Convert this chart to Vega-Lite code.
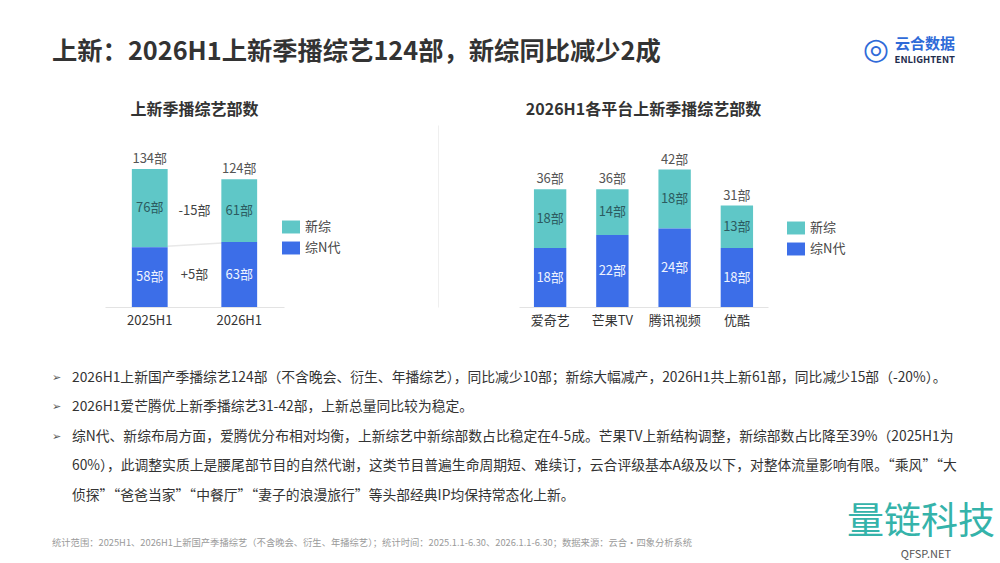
{
  "$schema": "https://vega.github.io/schema/vega-lite/v6.json",
  "background": "white",
  "padding": {"left": 52, "top": 0, "right": 0, "bottom": 0},
  "autosize": {"type": "pad"},
  "bounds": "full",
  "spacing": 0,
  "config": {
    "font": "Noto Sans CJK SC",
    "view": {"stroke": null, "fill": "white"},
    "axis": {"grid": false, "ticks": false, "title": null}
  },
  "datasets": {
    "header": [{"title": "上新：2026H1上新季播综艺124部，新综同比减少2成", "brand": "云合数据", "brandEn": "ENLIGHTENT", "icon": "◎"}],
    "trend": [
      {"period": "2025H1", "type": "新综", "value": 76, "change": ""},
      {"period": "2025H1", "type": "综N代", "value": 58, "change": ""},
      {"period": "2026H1", "type": "新综", "value": 61, "change": "-15部"},
      {"period": "2026H1", "type": "综N代", "value": 63, "change": "+5部"}
    ],
    "platform": [
      {"platform": "爱奇艺", "type": "新综", "value": 18},
      {"platform": "爱奇艺", "type": "综N代", "value": 18},
      {"platform": "芒果TV", "type": "新综", "value": 14},
      {"platform": "芒果TV", "type": "综N代", "value": 22},
      {"platform": "腾讯视频", "type": "新综", "value": 18},
      {"platform": "腾讯视频", "type": "综N代", "value": 24},
      {"platform": "优酷", "type": "新综", "value": 13},
      {"platform": "优酷", "type": "综N代", "value": 18}
    ],
    "notes": [
      {"line": 1, "bullet": "➢", "text": "2026H1上新国产季播综艺124部（不含晚会、衍生、年播综艺），同比减少10部；新综大幅减产，2026H1共上新61部，同比减少15部（-20%）。"},
      {"line": 2, "bullet": "➢", "text": "2026H1爱芒腾优上新季播综艺31-42部，上新总量同比较为稳定。"},
      {"line": 3, "bullet": "➢", "text": "综N代、新综布局方面，爱腾优分布相对均衡，上新综艺中新综部数占比稳定在4-5成。芒果TV上新结构调整，新综部数占比降至39%（2025H1为"},
      {"line": 4, "bullet": "", "text": "60%），此调整实质上是腰尾部节目的自然代谢，这类节目普遍生命周期短、难续订，云合评级基本A级及以下，对整体流量影响有限。“乘风”“大"},
      {"line": 5, "bullet": "", "text": "侦探”“爸爸当家”“中餐厅”“妻子的浪漫旅行”等头部经典IP均保持常态化上新。"}
    ],
    "footer": [{"note": "统计范围：2025H1、2026H1上新国产季播综艺（不含晚会、衍生、年播综艺）；统计时间：2025.1.1-6.30、2026.1.1-6.30；数据来源：云合·四象分析系统", "mark": "量链科技", "site": "QFSP.NET"}]
  },
  "vconcat": [
    {
      "width": 903,
      "height": 102,
      "data": {"name": "header"},
      "layer": [
        {
          "mark": {"type": "text", "align": "left", "baseline": "middle", "fontSize": 25.3, "fontWeight": "bold", "color": "#333333", "dy": 1},
          "encoding": {
            "x": {"datum": 0, "type": "quantitative", "scale": {"domain": [0, 1], "nice": false}, "axis": null},
            "text": {"field": "title"}
          }
        },
        {
          "mark": {"type": "text", "align": "right", "baseline": "middle", "fontSize": 15, "fontWeight": "bold", "color": "#2F6BD8", "dy": -7.5},
          "encoding": {
            "x": {"datum": 1, "type": "quantitative", "scale": {"domain": [0, 1], "nice": false}, "axis": null},
            "text": {"field": "brand"}
          }
        },
        {
          "mark": {"type": "text", "align": "right", "baseline": "middle", "fontSize": 9.5, "fontWeight": "bold", "color": "#1F2D4D", "dy": 9},
          "encoding": {
            "x": {"datum": 1, "type": "quantitative", "scale": {"domain": [0, 1], "nice": false}, "axis": null},
            "text": {"field": "brandEn"}
          }
        },
        {
          "mark": {"type": "text", "align": "right", "baseline": "middle", "font": "DejaVu Sans", "fontSize": 30, "color": "#2F6BD8", "dy": -1, "dx": -66},
          "encoding": {
            "x": {"datum": 1, "type": "quantitative", "scale": {"domain": [0, 1], "nice": false}, "axis": null},
            "text": {"field": "icon"}
          }
        }
      ]
    },
    {
      "bounds": "flush",
      "spacing": 0,
      "resolve": {"scale": {"x": "independent", "y": "independent", "color": "independent"}, "legend": {"color": "independent"}},
      "hconcat": [
        {"width": 53, "height": 1, "data": {"values": []}, "mark": "point"},
        {
          "width": 179,
          "height": 182,
          "data": {"name": "trend"},
          "title": {"text": "上新季播综艺部数", "fontSize": 16, "fontWeight": "bold", "color": "#333333", "baseline": "bottom", "offset": 9, "dy": 18, "anchor": "middle"},
          "encoding": {
            "x": {"field": "period", "type": "nominal", "scale": {"paddingInner": 0.6, "paddingOuter": 0.3},
                  "axis": {"labelAngle": 0, "labelFontSize": 13, "labelColor": "#333333", "labelPadding": 7, "domainColor": "#e3e3e3", "ticks": false, "title": null}}
          },
          "layer": [
            {
              "transform": [{"filter": "datum.type === '综N代'"}],
              "mark": {"type": "line", "color": "#e8e8e8", "strokeWidth": 1.5},
              "encoding": {"y": {"field": "value", "type": "quantitative", "scale": {"domain": [0, 176.6], "nice": false}, "axis": null}}
            },
            {
              "mark": {"type": "bar"},
              "encoding": {
                "y": {"field": "value", "type": "quantitative", "stack": "zero", "axis": null},
                "color": {"field": "type", "type": "nominal", "scale": {"domain": ["新综", "综N代"], "range": ["#5FC7C7", "#3C6EE8"]},
                          "legend": {"orient": "none", "legendX": 177, "legendY": 93, "title": null, "symbolType": "M-1,-0.72H1V0.72H-1Z", "symbolSize": 324, "symbolStrokeWidth": 0, "labelFontSize": 13, "labelColor": "#444444", "labelOffset": 5, "rowPadding": 5}},
                "order": {"field": "type", "sort": "descending"}
              }
            },
            {
              "mark": {"type": "text", "fontSize": 13, "baseline": "middle", "text": {"expr": "datum.value + '部'"}},
              "encoding": {
                "y": {"field": "value", "type": "quantitative", "stack": "zero", "bandPosition": 0.5, "axis": null},
                "detail": {"field": "type"},
                "order": {"field": "type", "sort": "descending"},
                "color": {"condition": {"test": "datum.type === '新综'", "value": "#2C5B60"}, "value": "#EEF3FF"}
              }
            },
            {
              "transform": [{"filter": "datum.change !== ''"}],
              "mark": {"type": "text", "fontSize": 13, "baseline": "middle", "color": "#444444", "dx": -44.75},
              "encoding": {
                "y": {"field": "value", "type": "quantitative", "stack": "zero", "bandPosition": 0.5, "axis": null},
                "detail": {"field": "type"},
                "order": {"field": "type", "sort": "descending"},
                "text": {"field": "change"}
              }
            },
            {
              "transform": [{"aggregate": [{"op": "sum", "field": "value", "as": "total"}], "groupby": ["period"]}],
              "mark": {"type": "text", "fontSize": 13, "baseline": "bottom", "color": "#555555", "dy": -3, "text": {"expr": "datum.total + '部'"}},
              "encoding": {
                "y": {"field": "total", "type": "quantitative", "axis": null}
              }
            }
          ]
        },
        {"width": 235, "height": 1, "data": {"values": []}, "mark": "point"},
        {
          "width": 249,
          "height": 182,
          "data": {"name": "platform"},
          "title": {"text": "2026H1各平台上新季播综艺部数", "fontSize": 16, "fontWeight": "bold", "color": "#333333", "baseline": "bottom", "offset": 9, "dy": 18, "anchor": "middle"},
          "encoding": {
            "x": {"field": "platform", "type": "nominal", "sort": ["爱奇艺", "芒果TV", "腾讯视频", "优酷"], "scale": {"paddingInner": 0.48, "paddingOuter": 0.24},
                  "axis": {"labelAngle": 0, "labelFontSize": 13, "labelColor": "#333333", "labelPadding": 7, "domainColor": "#e3e3e3", "ticks": false, "title": null}}
          },
          "layer": [
            {
              "mark": {"type": "bar"},
              "encoding": {
                "y": {"field": "value", "type": "quantitative", "stack": "zero", "scale": {"domain": [0, 55.6], "nice": false},
                      "axis": {"offset": 81, "domainColor": "#efefef", "labels": false, "ticks": false, "grid": false, "title": null}},
                "color": {"field": "type", "type": "nominal", "scale": {"domain": ["新综", "综N代"], "range": ["#5FC7C7", "#3C6EE8"]},
                          "legend": {"orient": "none", "legendX": 268, "legendY": 94, "title": null, "symbolType": "M-1,-0.72H1V0.72H-1Z", "symbolSize": 324, "symbolStrokeWidth": 0, "labelFontSize": 13, "labelColor": "#444444", "labelOffset": 5, "rowPadding": 5}},
                "order": {"field": "type", "sort": "descending"}
              }
            },
            {
              "mark": {"type": "text", "fontSize": 13, "baseline": "middle", "text": {"expr": "datum.value + '部'"}},
              "encoding": {
                "y": {"field": "value", "type": "quantitative", "stack": "zero", "bandPosition": 0.5},
                "detail": {"field": "type"},
                "order": {"field": "type", "sort": "descending"},
                "color": {"condition": {"test": "datum.type === '新综'", "value": "#2C5B60"}, "value": "#EEF3FF"}
              }
            },
            {
              "transform": [{"aggregate": [{"op": "sum", "field": "value", "as": "total"}], "groupby": ["platform"]}],
              "mark": {"type": "text", "fontSize": 13, "baseline": "bottom", "color": "#555555", "dy": -3, "text": {"expr": "datum.total + '部'"}},
              "encoding": {
                "y": {"field": "total", "type": "quantitative"}
              }
            }
          ]
        }
      ]
    },
    {
      "width": 903,
      "height": 177,
      "data": {"name": "notes"},
      "encoding": {
        "x": {"datum": 0, "type": "quantitative", "scale": {"domain": [0, 1], "nice": false}, "axis": null},
        "y": {"field": "line", "type": "quantitative", "scale": {"domain": [-0.7288, 5.2712], "nice": false, "zero": false, "reverse": true}, "axis": null}
      },
      "layer": [
        {
          "mark": {"type": "text", "align": "left", "baseline": "middle", "font": "DejaVu Sans", "fontSize": 11, "color": "#555555"},
          "encoding": {"text": {"field": "bullet"}}
        },
        {
          "mark": {"type": "text", "align": "left", "baseline": "middle", "fontSize": 13.8, "color": "#333333", "dx": 20},
          "encoding": {"text": {"field": "text"}}
        }
      ]
    },
    {
      "width": 943,
      "height": 59,
      "data": {"name": "footer"},
      "layer": [
        {
          "mark": {"type": "text", "align": "left", "baseline": "middle", "fontSize": 9.3, "color": "#9a9a9a", "dy": 8.5},
          "encoding": {
            "x": {"datum": 0, "type": "quantitative", "scale": {"domain": [0, 1], "nice": false}, "axis": null},
            "text": {"field": "note"}
          }
        },
        {
          "mark": {"type": "text", "align": "right", "baseline": "middle", "fontSize": 37, "color": "#35B3AA", "dy": -11.5},
          "encoding": {
            "x": {"datum": 1, "type": "quantitative", "scale": {"domain": [0, 1], "nice": false}, "axis": null},
            "text": {"field": "mark"}
          }
        },
        {
          "mark": {"type": "text", "align": "right", "baseline": "middle", "fontSize": 11, "color": "#555555", "dy": 20.5, "dx": -44},
          "encoding": {
            "x": {"datum": 1, "type": "quantitative", "scale": {"domain": [0, 1], "nice": false}, "axis": null},
            "text": {"field": "site"}
          }
        }
      ]
    }
  ]
}
